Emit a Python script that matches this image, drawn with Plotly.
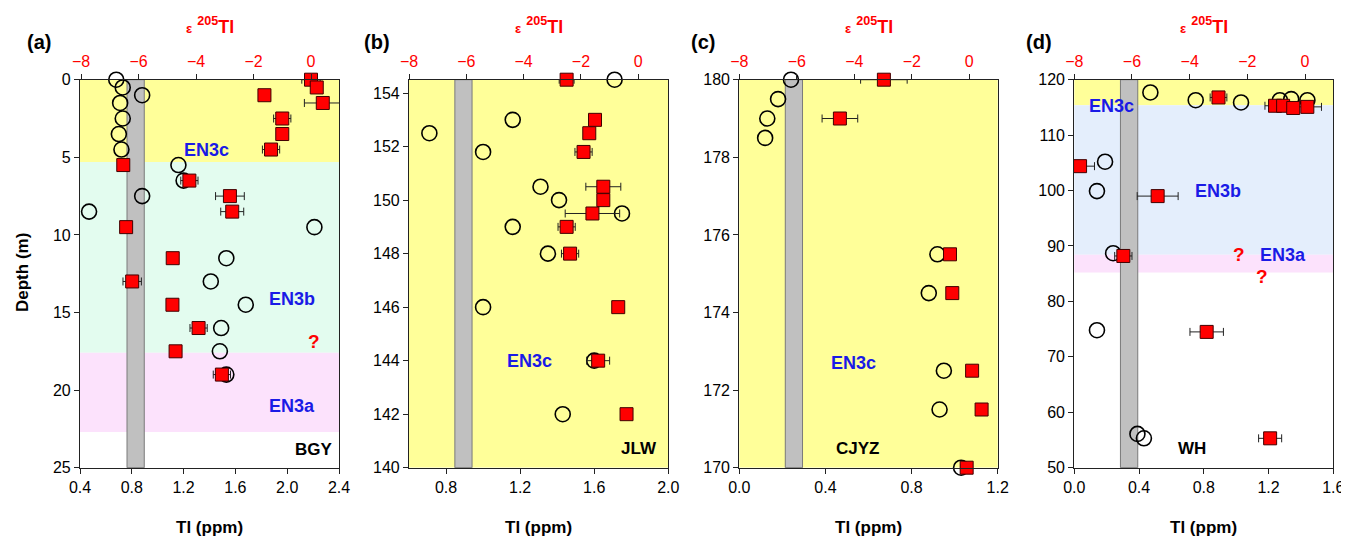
import plotly.graph_objects as go

# ---------------- data ----------------
# Panel (a) BGY
a_tl_depth = [0, 0.5, 1.0, 1.5, 2.5, 3.5, 4.5, 5.5, 6.5, 7.5, 8.5, 9.5, 11.5, 13.0, 14.5, 16.0, 17.5, 19.0]
a_tl = [0.68, 0.73, 0.88, 0.71, 0.73, 0.70, 0.72, 1.16, 1.20, 0.88, 0.47, 2.21, 1.53, 1.41, 1.68, 1.49, 1.48, 1.53]
a_eps_depth = [0, 0.5, 1.0, 1.5, 2.5, 3.5, 4.5, 5.5, 6.5, 7.5, 8.5, 9.5, 11.5, 13.0, 14.5, 16.0, 17.5, 19.0]
a_eps = [0.0, 0.2, -1.62, 0.41, -1.0, -1.0, -1.39, -6.53, -4.23, -2.82, -2.74, -6.43, -4.81, -6.22, -4.82, -3.91, -4.71, -3.1]
a_eps_err = [0.32, 0, 0, 0.64, 0.3, 0, 0.3, 0, 0.3, 0.5, 0.4, 0, 0, 0.32, 0, 0.3, 0, 0.3]

# Panel (b) JLW
b_tl_depth = [154.5, 153.0, 152.5, 151.8, 150.5, 150.0, 149.5, 149.0, 148.0, 146.0, 144.0, 142.0]
b_tl = [1.71, 1.16, 0.71, 1.00, 1.31, 1.41, 1.75, 1.16, 1.35, 1.00, 1.60, 1.43]
b_eps_depth = [154.5, 153.0, 152.5, 151.8, 150.5, 150.0, 149.5, 149.0, 148.0, 146.0, 144.0, 142.0]
b_eps = [-2.5, -1.51, -1.71, -1.91, -1.22, -1.22, -1.6, -2.5, -2.38, -0.70, -1.40, -0.41]
b_eps_err = [0.26, 0, 0, 0.3, 0.61, 0, 0.95, 0.3, 0.3, 0, 0.4, 0]

# Panel (c) CJYZ
c_tl_depth = [180.0, 179.5, 179.0, 178.5, 175.5, 174.5, 172.5, 171.5, 170.0]
c_tl = [0.24, 0.18, 0.13, 0.12, 0.92, 0.88, 0.95, 0.93, 1.03]
c_eps_depth = [180.0, 179.0, 175.5, 174.5, 172.5, 171.5, 170.0]
c_eps = [-2.97, -4.5, -0.67, -0.59, 0.10, 0.43, -0.09]
c_eps_err = [0.81, 0.62, 0.2, 0, 0, 0, 0.2]

# Panel (d) WH
d_tl_depth = [117.7, 116.3, 115.9, 116.3, 116.5, 116.3, 105.2, 99.9, 88.7, 74.8, 56.1, 55.3]
d_tl = [0.47, 0.75, 1.03, 1.27, 1.34, 1.44, 0.19, 0.14, 0.24, 0.14, 0.39, 0.43]
d_eps_depth = [116.8, 115.3, 115.3, 114.9, 115.1, 104.4, 99.0, 88.2, 74.5, 55.3]
d_eps = [-3.0, -1.04, -0.76, -0.41, 0.08, -7.8, -5.11, -6.3, -3.41, -1.21]
d_eps_err = [0.29, 0.35, 0, 0, 0.49, 0.5, 0.71, 0.3, 0.58, 0.4]

panel_labels = ["(a)", "(b)", "(c)", "(d)"]
site_names = ["BGY", "JLW", "CJYZ", "WH"]
tl_ticks = [[0.4, 0.8, 1.2, 1.6, 2.0, 2.4], [0.8, 1.2, 1.6, 2.0], [0.0, 0.4, 0.8, 1.2], [0.0, 0.4, 0.8, 1.2, 1.6]]
eps_ticks = [-8, -6, -4, -2, 0]
depth_ticks = [[0, 5, 10, 15, 20, 25], list(range(140, 155, 2)), list(range(170, 181, 2)), list(range(50, 121, 10))]

# intervals (zones): (panel, y0, y1, colour)
YELLOW = "#FFFF99"
MINT = "#E3FCEF"
PINK = "#FCE2FC"
LBLUE = "#E4EEFC"
zones = [
    (0, 0, 5.3, YELLOW), (0, 5.3, 17.6, MINT), (0, 17.6, 22.7, PINK),
    (1, 140, 154.5, YELLOW),
    (2, 170, 180, YELLOW),
    (3, 115.4, 120, YELLOW), (3, 88.4, 115.4, LBLUE), (3, 85.2, 88.4, PINK),
]
gray_band = (-6.4, -5.8)

# ---------------- layout geometry ----------------
# the page body has an 8 px margin; the figure is sized/offset so it fills the 1349x537 window
OFF = 8
W, H = 1349 - OFF, 537 - OFF
FONT = "Arial, Liberation Sans, sans-serif"


def PX(x):
    return (x - OFF) / W


def PY(y):
    return 1 - (y - OFF) / H


px_domains = [(80, 339), (409, 668.3), (739.3, 997.7), (1074.3, 1333.3)]
y_top, y_bot = 79.7, 467.7
ydom = [PY(y_bot), PY(y_top)]
tl_ranges = [[0.4, 2.4], [0.6, 2.0], [0.0, 1.2], [0.0, 1.6]]
eps_ranges = [[-8.035, 0.974], [-8.0, 1.047], [-8.0, 0.99], [-8.0, 0.98]]
depth_ranges = [[25, 0], [140, 154.5], [170, 180], [50, 120]]

tl_data = [(a_tl_depth, a_tl), (b_tl_depth, b_tl), (c_tl_depth, c_tl), (d_tl_depth, d_tl)]
eps_data = [(a_eps_depth, a_eps, a_eps_err), (b_eps_depth, b_eps, b_eps_err),
            (c_eps_depth, c_eps, c_eps_err), (d_eps_depth, d_eps, d_eps_err)]


def xn(n):
    return "x" if n == 1 else f"x{n}"


def yn(n):
    return "y" if n == 1 else f"y{n}"


fig = go.Figure()
layout = dict(
    width=W, height=H, margin=dict(l=0, r=0, t=0, b=0, pad=0, autoexpand=False),
    paper_bgcolor="white", plot_bgcolor="white", showlegend=False,
    font=dict(family=FONT, size=16, color="black"),
)

axis_common = dict(showgrid=False, zeroline=False, showline=True, linecolor="#222",
                   linewidth=1.2, ticks="outside", ticklen=5, tickcolor="#222", automargin=False,
                   tickfont=dict(family=FONT, size=16))

annotations = []
gray_shapes = []

for i in range(4):
    xb = xn(2 * i + 1)
    xt = xn(2 * i + 2)
    yy = yn(i + 1)
    xbk = "xaxis" if i == 0 else f"xaxis{2*i+1}"
    xtk = f"xaxis{2*i+2}"
    yk = "yaxis" if i == 0 else f"yaxis{i+1}"
    d0 = PX(px_domains[i][0])
    d1 = PX(px_domains[i][1])
    layout[xbk] = dict(axis_common, domain=[d0, d1], anchor=yy, side="bottom",
                       range=tl_ranges[i], tickvals=tl_ticks[i], tickformat=".1f")
    layout[xtk] = dict(axis_common, overlaying=xb, anchor=yy, side="top",
                       range=eps_ranges[i], tickvals=eps_ticks,
                       tickfont=dict(family=FONT, size=16, color="#FF0000"))
    layout[yk] = dict(axis_common, domain=ydom, anchor=xb, range=depth_ranges[i],
                      tickvals=depth_ticks[i], mirror=True)

    # squares (epsilon) with error bars
    dep, ev, er = eps_data[i]
    fig.add_trace(go.Scatter(
        x=ev, y=dep, mode="markers", xaxis=xt, yaxis=yy, cliponaxis=False,
        marker=dict(symbol="square", size=13, color="#FF0000", line=dict(color="#400000", width=1)),
        error_x=dict(type="data", array=er, visible=True, color="#222", thickness=1, width=4),
    ))
    # circles (Tl concentration)
    dep, tv = tl_data[i]
    fig.add_trace(go.Scatter(
        x=tv, y=dep, mode="markers", xaxis=xb, yaxis=yy, cliponaxis=False,
        marker=dict(symbol="circle-open", size=15, color="black", line=dict(color="black", width=1.6)),
    ))

    cx = PX((px_domains[i][0] + px_domains[i][1]) / 2)
    annotations.append(dict(xref="paper", yref="paper", x=cx, y=PY(527), text="<b>Tl (ppm)</b>",
                            showarrow=False, font=dict(size=17, color="black"), xanchor="center", yanchor="middle"))
    annotations.append(dict(xref="paper", yref="paper", x=cx, y=PY(26),
                            text="<b><span style='font-size:13px'>ε</span> <sup>205</sup>Tl</b>",
                            showarrow=False, font=dict(size=18, color="#FF0000"), xanchor="center", yanchor="middle"))
    lx = [39, 377, 703, 1039][i]
    annotations.append(dict(xref="paper", yref="paper", x=PX(lx), y=PY(42), text=f"<b>{panel_labels[i]}</b>",
                            showarrow=False, font=dict(size=20, color="black"), xanchor="center", yanchor="middle"))

    # gray reference band (epsilon units)
    gray_shapes.append(dict(type="rect", xref=xt, yref=f"{yy} domain", x0=gray_band[0], x1=gray_band[1],
                            y0=0, y1=1, fillcolor="#C0C0C0", line=dict(color="#7A7A7A", width=1), layer="below"))

# zone bands first
zone_shapes = []
for (p, y0, y1, col) in zones:
    zone_shapes.append(dict(type="rect", xref=f"{xn(2*p+1)} domain", yref=yn(p + 1), x0=0, x1=1,
                            y0=y0, y1=y1, fillcolor=col, line=dict(width=0), layer="below"))
layout["shapes"] = zone_shapes + gray_shapes

# text labels inside panels (positions in Tl / depth data units)
BLUE = "#1A1AE6"
texts = [
    (0, 1.38, 4.5, "EN3c", BLUE, 18), (0, 2.04, 14.1, "EN3b", BLUE, 18), (0, 2.21, 16.9, "?", "#FF0000", 19),
    (0, 2.04, 21.0, "EN3a", BLUE, 18), (0, 2.21, 23.8, "BGY", "black", 17),
    (1, 1.25, 144.0, "EN3c", BLUE, 18), (1, 1.84, 140.7, "JLW", "black", 17),
    (2, 0.53, 172.7, "EN3c", BLUE, 18), (2, 0.55, 170.5, "CJYZ", "black", 17),
    (3, 0.23, 115.2, "EN3c", BLUE, 18), (3, 0.89, 100.0, "EN3b", BLUE, 18),
    (3, 1.02, 88.4, "?", "#FF0000", 19), (3, 1.29, 88.4, "EN3a", BLUE, 18),
    (3, 1.16, 84.5, "?", "#FF0000", 19), (3, 0.73, 53.5, "WH", "black", 17),
]
for (p, x, y, t, col, sz) in texts:
    annotations.append(dict(xref=xn(2 * p + 1), yref=yn(p + 1), x=x, y=y, text=f"<b>{t}</b>", showarrow=False,
                            font=dict(size=sz, color=col), xanchor="center", yanchor="middle"))

annotations.append(dict(xref="paper", yref="paper", x=PX(22), y=PY(273), text="<b>Depth (m)</b>",
                        showarrow=False, textangle=-90, font=dict(size=17, color="black"),
                        xanchor="center", yanchor="middle"))
layout["annotations"] = annotations

fig.update_layout(**layout)
fig.write_html("out.html")
